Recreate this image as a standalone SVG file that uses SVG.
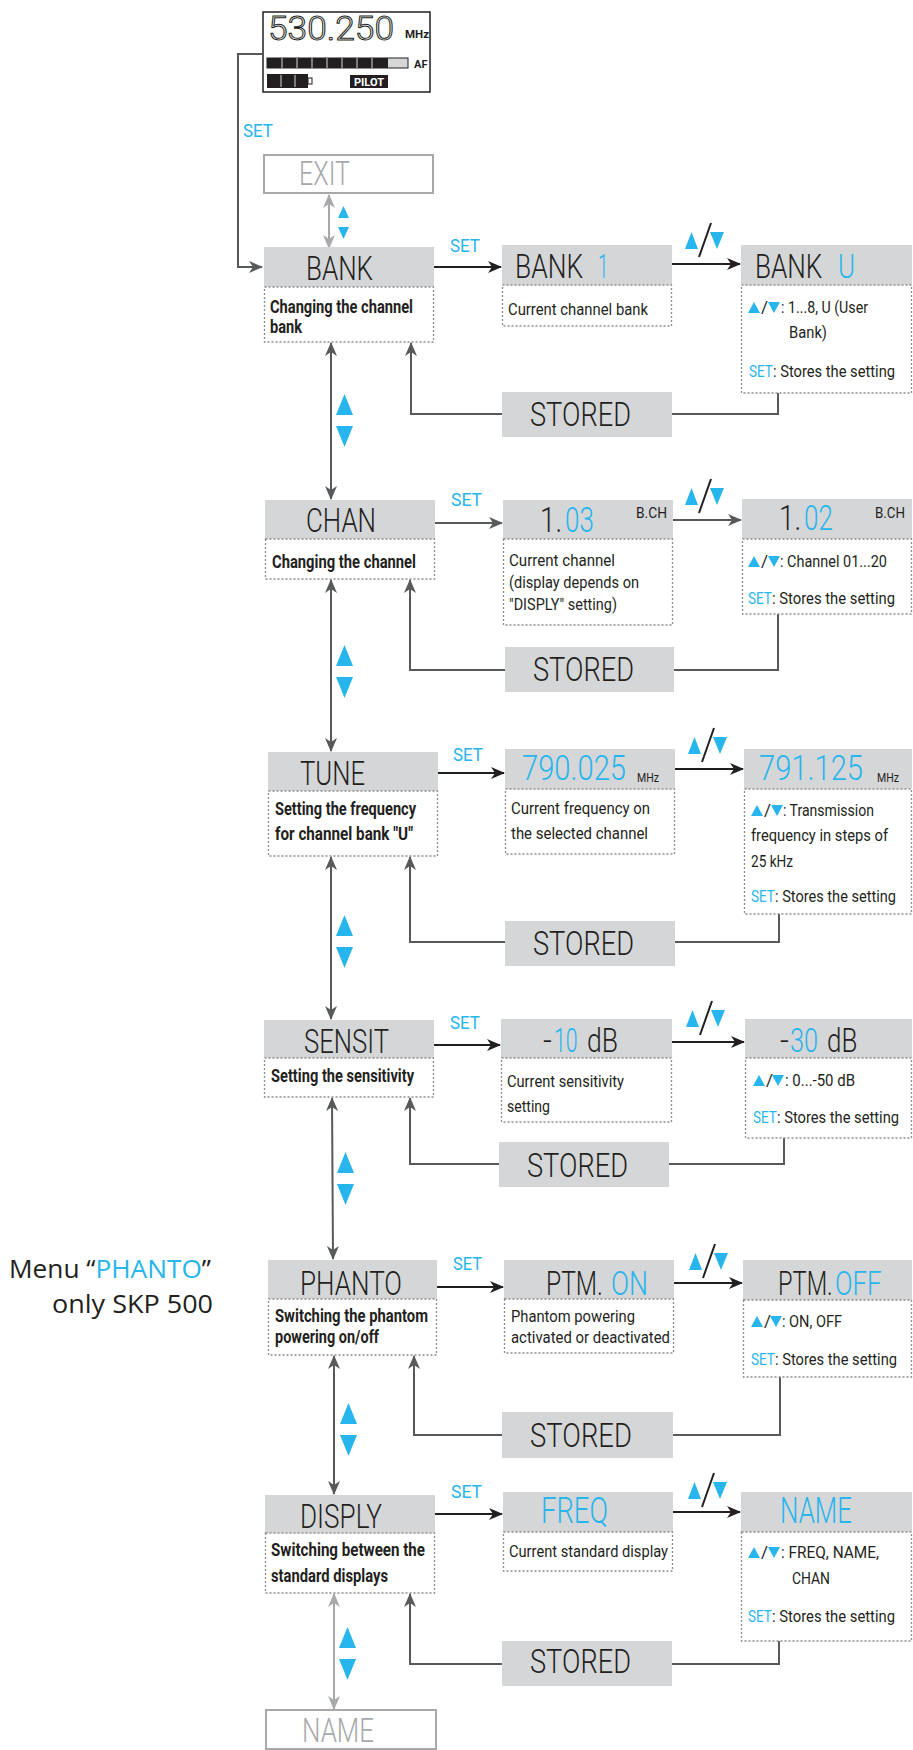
<svg xmlns="http://www.w3.org/2000/svg" xmlns:xlink="http://www.w3.org/1999/xlink" width="913" height="1750" viewBox="0 0 913 1750">
<defs>
<style>
.hdr{fill:#d5d6d8}
.dot{fill:none;stroke:#8c8c8c;stroke-width:1.3;stroke-dasharray:2 2}
.t{font-family:Roboto,"Liberation Sans",sans-serif;fill:#231f20}
.h{font-size:33px;font-weight:300}
.big{font-size:36px;font-weight:300}
.d{font-size:17px}
.r{font-size:16px}
.b{font-size:18px;font-weight:700}
.s{font-size:18px;fill:#27b5ee}
.sm{font-size:14px}
.blue{fill:#27b5ee}
.grey{fill:#a7a9ac}
.ln{fill:none;stroke:#58595b;stroke-width:2}
.lk{fill:none;stroke:#231f20;stroke-width:2}
.lg{fill:none;stroke:#a7a9ac;stroke-width:2}
.tri{fill:#27b5ee}
</style>
<marker id="ak" viewBox="0 0 14 12" refX="13" refY="6" markerWidth="14" markerHeight="12" markerUnits="userSpaceOnUse" orient="auto-start-reverse"><path d="M0,0 L14,6 L0,12 L4,6 z" fill="#231f20"/></marker>
<marker id="ag" viewBox="0 0 14 12" refX="13" refY="6" markerWidth="14" markerHeight="12" markerUnits="userSpaceOnUse" orient="auto-start-reverse"><path d="M0,0 L14,6 L0,12 L4,6 z" fill="#58595b"/></marker>
<marker id="al" viewBox="0 0 14 12" refX="13" refY="6" markerWidth="14" markerHeight="12" markerUnits="userSpaceOnUse" orient="auto-start-reverse"><path d="M0,0 L14,6 L0,12 L4,6 z" fill="#a7a9ac"/></marker>
<polygon id="tu" points="0,11 6,0 12,11"/>
<polygon id="td" points="0,0 12,0 6,11"/>
<polygon id="Tu" points="0,21 8.5,0 17,21"/>
<polygon id="Td" points="0,0 17,0 8.5,21"/>
<g id="ud">
<polygon points="0,17 6.5,0 13,17" fill="#27b5ee"/>
<polygon points="25,0 39,0 32,17" fill="#27b5ee"/>
<line x1="14" y1="25" x2="26" y2="-9" stroke="#231f20" stroke-width="2"/>
</g>
</defs>

<g id="lcd">
<rect x="263" y="12" width="167" height="80" fill="#fff" stroke="#231f20" stroke-width="1.5"/>
<text x="268" y="40" font-family="Roboto,'Liberation Sans',sans-serif" font-size="33" font-weight="300" style="fill:#fff;stroke:#231f20;stroke-width:1" textLength="126" lengthAdjust="spacingAndGlyphs">530.250</text>
<text x="405" y="38" class="t" font-size="10" font-weight="700" textLength="24" lengthAdjust="spacingAndGlyphs">MHz</text>
<rect x="267" y="58" width="141" height="10" fill="#d5d6d8" stroke="#231f20" stroke-width="1"/>
<rect x="267" y="58" width="121" height="10" fill="#231f20"/>
<path d="M282,58V68M297,58V68M312,58V68M327,58V68M342,58V68M357,58V68M372,58V68" stroke="#d5d6d8" stroke-width="1"/>
<text x="414" y="68" class="t" font-size="11" font-weight="700">AF</text>
<rect x="267" y="74" width="41" height="14" fill="#231f20"/>
<path d="M281,75V87M295,75V87" stroke="#d5d6d8" stroke-width="1"/>
<rect x="308" y="78" width="4" height="6" fill="#fff" stroke="#231f20" stroke-width="1"/>
<rect x="350" y="75" width="38" height="13" fill="#231f20"/>
<text x="354" y="86" font-family="Roboto,'Liberation Sans',sans-serif" font-size="10" font-weight="700" style="fill:#fff" textLength="30" lengthAdjust="spacingAndGlyphs">PILOT</text>
</g>

<g id="connectors">
<path class="ln" d="M263,54H238V267H262" marker-end="url(#ag)"/>
<line class="lg" x1="329" y1="195" x2="329" y2="248" marker-start="url(#al)" marker-end="url(#al)"/>
<line class="lk" x1="434" y1="267" x2="501" y2="267" marker-end="url(#ak)"/>
<line class="lk" x1="672" y1="264" x2="740" y2="264" marker-end="url(#ak)"/>
<path class="ln" d="M778,393V414H672"/>
<path class="ln" d="M502,414H411V343" marker-end="url(#ag)"/>
<line class="ln" x1="331" y1="343" x2="331" y2="499" marker-start="url(#ag)" marker-end="url(#ag)"/>
<line class="ln" x1="435" y1="523" x2="502" y2="523" marker-end="url(#ag)"/>
<line class="ln" x1="673" y1="520" x2="741" y2="520" marker-end="url(#ag)"/>
<path class="ln" d="M778,614V670H674"/>
<path class="ln" d="M505,670H410V580" marker-end="url(#ag)"/>
<line class="ln" x1="331" y1="580" x2="331" y2="751" marker-start="url(#ag)" marker-end="url(#ag)"/>
<line class="lk" x1="438" y1="773" x2="504" y2="773" marker-end="url(#ak)"/>
<line class="lk" x1="675" y1="769" x2="743" y2="769" marker-end="url(#ak)"/>
<path class="ln" d="M779,914V942H675"/>
<path class="ln" d="M505,942H410V857" marker-end="url(#ag)"/>
<line class="ln" x1="331" y1="857" x2="331" y2="1019" marker-start="url(#ag)" marker-end="url(#ag)"/>
<line class="lk" x1="434" y1="1045" x2="500" y2="1045" marker-end="url(#ak)"/>
<line class="lk" x1="672" y1="1042" x2="744" y2="1042" marker-end="url(#ak)"/>
<path class="ln" d="M784,1138V1164H669"/>
<path class="ln" d="M499,1164H410V1098" marker-end="url(#ag)"/>
<line class="ln" x1="332" y1="1098" x2="333" y2="1259" marker-start="url(#ag)" marker-end="url(#ag)"/>
<line class="lk" x1="437" y1="1287" x2="503" y2="1287" marker-end="url(#ak)"/>
<line class="lk" x1="674" y1="1283" x2="742" y2="1283" marker-end="url(#ak)"/>
<path class="ln" d="M780,1377V1435H673"/>
<path class="ln" d="M502,1435H414V1356" marker-end="url(#ag)"/>
<line class="ln" x1="334" y1="1356" x2="334" y2="1494" marker-start="url(#ag)" marker-end="url(#ag)"/>
<line class="lk" x1="435" y1="1514" x2="502" y2="1514" marker-end="url(#ak)"/>
<line class="lk" x1="673" y1="1512" x2="740" y2="1512" marker-end="url(#ak)"/>
<path class="ln" d="M779,1641V1664H672"/>
<path class="ln" d="M502,1664H410V1594" marker-end="url(#ag)"/>
<line class="lg" x1="334" y1="1594" x2="334" y2="1709" marker-start="url(#al)" marker-end="url(#al)"/>
<use xlink:href="#ud" x="685" y="232"/>
<use xlink:href="#ud" x="685" y="488"/>
<use xlink:href="#ud" x="688" y="737"/>
<use xlink:href="#ud" x="686" y="1010"/>
<use xlink:href="#ud" x="689" y="1253"/>
<use xlink:href="#ud" x="688" y="1482"/>
<polygon class="tri" points="338,218 343.5,206 349,218"/>
<polygon class="tri" points="338,227 349,227 343.5,239"/>
<use xlink:href="#Tu" class="tri" x="336" y="394"/>
<use xlink:href="#Td" class="tri" x="336" y="426"/>
<use xlink:href="#Tu" class="tri" x="336" y="645"/>
<use xlink:href="#Td" class="tri" x="336" y="677"/>
<use xlink:href="#Tu" class="tri" x="336" y="915"/>
<use xlink:href="#Td" class="tri" x="336" y="947"/>
<use xlink:href="#Tu" class="tri" x="337" y="1152"/>
<use xlink:href="#Td" class="tri" x="337" y="1184"/>
<use xlink:href="#Tu" class="tri" x="340" y="1403"/>
<use xlink:href="#Td" class="tri" x="340" y="1435"/>
<use xlink:href="#Tu" class="tri" x="339" y="1627"/>
<use xlink:href="#Td" class="tri" x="339" y="1659"/>
</g>
<text x="243" y="137" class="t s" textLength="30" lengthAdjust="spacingAndGlyphs">SET</text>

<g id="exit">
<rect x="264" y="155" width="169" height="38" fill="#fff" stroke="#a7a9ac" stroke-width="2"/>
<text x="299" y="185" class="t h grey" textLength="51" lengthAdjust="spacingAndGlyphs">EXIT</text>
</g>

<g id="bank">
<rect class="hdr" x="264" y="247" width="170" height="40"/>
<rect class="dot" x="264.5" y="287" width="169" height="55"/>
<text x="306" y="280" class="t h" textLength="67" lengthAdjust="spacingAndGlyphs">BANK</text>
<text x="270" y="313" class="t b" textLength="143" lengthAdjust="spacingAndGlyphs">Changing the channel</text>
<text x="270" y="333" class="t b" textLength="32" lengthAdjust="spacingAndGlyphs">bank</text>
</g>
<text x="450" y="252" class="t s" textLength="30" lengthAdjust="spacingAndGlyphs">SET</text>
<g id="bank1">
<rect class="hdr" x="502" y="245" width="170" height="40"/>
<rect class="dot" x="502.5" y="285" width="169" height="41"/>
<text transform="translate(515,278) scale(0.74,1)" class="t h" textLength="92" lengthAdjust="spacingAndGlyphs">BANK</text>
<text transform="translate(598,278) scale(0.74,1)" class="t h blue" textLength="14" lengthAdjust="spacingAndGlyphs">1</text>
<text x="508" y="315" class="t d" textLength="140" lengthAdjust="spacingAndGlyphs">Current channel bank</text>
</g>
<g id="bankU">
<rect class="hdr" x="741" y="245" width="171" height="40"/>
<rect class="dot" x="741.5" y="285" width="170" height="108"/>
<text transform="translate(755,278) scale(0.74,1)" class="t h" textLength="91" lengthAdjust="spacingAndGlyphs">BANK</text>
<text transform="translate(838,278) scale(0.74,1)" class="t h blue" textLength="23" lengthAdjust="spacingAndGlyphs">U</text>
<use xlink:href="#tu" class="tri" x="748" y="302"/>
<text x="761" y="313" class="t d">/</text>
<use xlink:href="#td" class="tri" x="768" y="302"/>
<text x="781" y="313" class="t r" textLength="87" lengthAdjust="spacingAndGlyphs">: 1...8, U (User</text>
<text x="789" y="338" class="t d" textLength="38" lengthAdjust="spacingAndGlyphs">Bank)</text>
<text transform="translate(749,377) scale(0.7,1)" class="t d blue" textLength="34" lengthAdjust="spacingAndGlyphs">SET</text>
<text x="773" y="377" class="t r" textLength="122" lengthAdjust="spacingAndGlyphs">: Stores the setting</text>
</g>
<g id="stored1">
<rect class="hdr" x="502" y="392" width="170" height="45"/>
<text x="530" y="426" class="t h" textLength="101" lengthAdjust="spacingAndGlyphs">STORED</text>
</g>

<g id="chan">
<rect class="hdr" x="265" y="500" width="170" height="39"/>
<rect class="dot" x="265.5" y="539" width="169" height="40"/>
<text x="306" y="532" class="t h" textLength="70" lengthAdjust="spacingAndGlyphs">CHAN</text>
<text x="272" y="568" class="t b" textLength="144" lengthAdjust="spacingAndGlyphs">Changing the channel</text>
</g>
<text x="451" y="506" class="t s" textLength="31" lengthAdjust="spacingAndGlyphs">SET</text>
<g id="ch103">
<rect class="hdr" x="503" y="500" width="170" height="39"/>
<rect class="dot" x="503.5" y="539" width="169" height="86"/>
<text transform="translate(540,532) scale(0.74,1)" class="t big" textLength="30" lengthAdjust="spacingAndGlyphs">1.</text>
<text transform="translate(565,532) scale(0.74,1)" class="t big blue" textLength="39" lengthAdjust="spacingAndGlyphs">03</text>
<text x="636" y="518" class="t sm" textLength="31" lengthAdjust="spacingAndGlyphs">B.CH</text>
<text x="509" y="566" class="t d" textLength="106" lengthAdjust="spacingAndGlyphs">Current channel</text>
<text x="509" y="588" class="t d" textLength="130" lengthAdjust="spacingAndGlyphs">(display depends on</text>
<text x="509" y="610" class="t d" textLength="108" lengthAdjust="spacingAndGlyphs">"DISPLY" setting)</text>
</g>
<g id="ch102">
<rect class="hdr" x="742" y="499" width="170" height="40"/>
<rect class="dot" x="742.5" y="539" width="169" height="75"/>
<text transform="translate(779,530) scale(0.74,1)" class="t big" textLength="30" lengthAdjust="spacingAndGlyphs">1.</text>
<text transform="translate(804,530) scale(0.74,1)" class="t big blue" textLength="39" lengthAdjust="spacingAndGlyphs">02</text>
<text x="875" y="518" class="t sm" textLength="30" lengthAdjust="spacingAndGlyphs">B.CH</text>
<use xlink:href="#tu" class="tri" x="748" y="556"/>
<text x="761" y="567" class="t d">/</text>
<use xlink:href="#td" class="tri" x="768" y="556"/>
<text x="780" y="567" class="t r" textLength="107" lengthAdjust="spacingAndGlyphs">: Channel  01...20</text>
<text transform="translate(748,604) scale(0.7,1)" class="t d blue" textLength="34" lengthAdjust="spacingAndGlyphs">SET</text>
<text x="772" y="604" class="t r" textLength="123" lengthAdjust="spacingAndGlyphs">: Stores the setting</text>
</g>
<g id="stored2">
<rect class="hdr" x="505" y="647" width="169" height="45"/>
<text x="533" y="681" class="t h" textLength="101" lengthAdjust="spacingAndGlyphs">STORED</text>
</g>

<g id="tune">
<rect class="hdr" x="268" y="752" width="170" height="39"/>
<rect class="dot" x="268.5" y="791" width="169" height="65"/>
<text x="300" y="785" class="t h" textLength="65" lengthAdjust="spacingAndGlyphs">TUNE</text>
<text x="275" y="815" class="t b" textLength="141" lengthAdjust="spacingAndGlyphs">Setting the frequency</text>
<text x="275" y="840" class="t b" textLength="138" lengthAdjust="spacingAndGlyphs">for channel bank "U"</text>
</g>
<text x="453" y="761" class="t s" textLength="30" lengthAdjust="spacingAndGlyphs">SET</text>
<g id="f790">
<rect class="hdr" x="505" y="749" width="170" height="40"/>
<rect class="dot" x="505.5" y="789" width="169" height="65"/>
<text transform="translate(522,780) scale(0.8,1)" class="t big blue" font-size="37" textLength="130" lengthAdjust="spacingAndGlyphs">790.025</text>
<text x="637" y="782" class="t" font-size="13" textLength="22" lengthAdjust="spacingAndGlyphs">MHz</text>
<text x="511" y="814" class="t d" textLength="139" lengthAdjust="spacingAndGlyphs">Current frequency on</text>
<text x="511" y="839" class="t d" textLength="137" lengthAdjust="spacingAndGlyphs">the selected channel</text>
</g>
<g id="f791">
<rect class="hdr" x="744" y="749" width="168" height="40"/>
<rect class="dot" x="744.5" y="789" width="167" height="125"/>
<text transform="translate(759,780) scale(0.8,1)" class="t big blue" font-size="37" textLength="130" lengthAdjust="spacingAndGlyphs">791.125</text>
<text x="877" y="782" class="t" font-size="13" textLength="22" lengthAdjust="spacingAndGlyphs">MHz</text>
<use xlink:href="#tu" class="tri" x="751" y="805"/>
<text x="764" y="816" class="t d">/</text>
<use xlink:href="#td" class="tri" x="771" y="805"/>
<text x="783" y="816" class="t r" textLength="91" lengthAdjust="spacingAndGlyphs">: Transmission</text>
<text x="751" y="841" class="t r" textLength="137" lengthAdjust="spacingAndGlyphs">frequency in steps of</text>
<text x="751" y="867" class="t d" textLength="42" lengthAdjust="spacingAndGlyphs">25 kHz</text>
<text transform="translate(751,902) scale(0.7,1)" class="t d blue" textLength="34" lengthAdjust="spacingAndGlyphs">SET</text>
<text x="775" y="902" class="t r" textLength="121" lengthAdjust="spacingAndGlyphs">: Stores the setting</text>
</g>
<g id="stored3">
<rect class="hdr" x="505" y="921" width="170" height="45"/>
<text x="533" y="955" class="t h" textLength="101" lengthAdjust="spacingAndGlyphs">STORED</text>
</g>

<g id="sensit">
<rect class="hdr" x="264" y="1020" width="170" height="38"/>
<rect class="dot" x="264.5" y="1058" width="169" height="39"/>
<text x="304" y="1053" class="t h" textLength="85" lengthAdjust="spacingAndGlyphs">SENSIT</text>
<text x="271" y="1082" class="t b" textLength="143" lengthAdjust="spacingAndGlyphs">Setting the sensitivity</text>
</g>
<text x="450" y="1029" class="t s" textLength="30" lengthAdjust="spacingAndGlyphs">SET</text>
<g id="s10">
<rect class="hdr" x="501" y="1019" width="171" height="39"/>
<rect class="dot" x="501.5" y="1058" width="170" height="64"/>
<text transform="translate(543,1052) scale(0.74,1)" class="t h" textLength="12" lengthAdjust="spacingAndGlyphs">-</text>
<text transform="translate(554,1052) scale(0.74,1)" class="t h blue" textLength="32" lengthAdjust="spacingAndGlyphs">10</text>
<text transform="translate(587,1052) scale(0.74,1)" class="t h" textLength="42" lengthAdjust="spacingAndGlyphs">dB</text>
<text x="507" y="1087" class="t d" textLength="117" lengthAdjust="spacingAndGlyphs">Current sensitivity</text>
<text x="507" y="1112" class="t d" textLength="43" lengthAdjust="spacingAndGlyphs">setting</text>
</g>
<g id="s30">
<rect class="hdr" x="745" y="1019" width="167" height="39"/>
<rect class="dot" x="745.5" y="1058" width="166" height="80"/>
<text transform="translate(780,1052) scale(0.74,1)" class="t h" textLength="12" lengthAdjust="spacingAndGlyphs">-</text>
<text transform="translate(790,1052) scale(0.74,1)" class="t h blue" textLength="38" lengthAdjust="spacingAndGlyphs">30</text>
<text transform="translate(827,1052) scale(0.74,1)" class="t h" textLength="41" lengthAdjust="spacingAndGlyphs">dB</text>
<use xlink:href="#tu" class="tri" x="753" y="1075"/>
<text x="766" y="1086" class="t d">/</text>
<use xlink:href="#td" class="tri" x="772" y="1075"/>
<text x="785" y="1086" class="t r" textLength="70" lengthAdjust="spacingAndGlyphs">:  0...-50 dB</text>
<text transform="translate(753,1123) scale(0.7,1)" class="t d blue" textLength="34" lengthAdjust="spacingAndGlyphs">SET</text>
<text x="777" y="1123" class="t r" textLength="122" lengthAdjust="spacingAndGlyphs">: Stores the setting</text>
</g>
<g id="stored4">
<rect class="hdr" x="499" y="1142" width="170" height="45"/>
<text x="527" y="1177" class="t h" textLength="101" lengthAdjust="spacingAndGlyphs">STORED</text>
</g>

<g id="note">
<text x="211" y="1278" font-family="'Open Sans','Noto Sans',sans-serif" font-size="25" fill="#231f20" text-anchor="end" textLength="202" lengthAdjust="spacingAndGlyphs">Menu “<tspan fill="#27b5ee">PHANTO</tspan>”</text>
<text x="213" y="1313" font-family="'Open Sans','Noto Sans',sans-serif" font-size="25" fill="#231f20" text-anchor="end" textLength="161" lengthAdjust="spacingAndGlyphs">only SKP 500</text>
</g>
<g id="phanto">
<rect class="hdr" x="268" y="1260" width="169" height="39"/>
<rect class="dot" x="268.5" y="1299" width="168" height="56"/>
<text x="300" y="1295" class="t h" textLength="102" lengthAdjust="spacingAndGlyphs">PHANTO</text>
<text x="275" y="1322" class="t b" textLength="153" lengthAdjust="spacingAndGlyphs">Switching the phantom</text>
<text x="275" y="1343" class="t b" textLength="104" lengthAdjust="spacingAndGlyphs">powering on/off</text>
</g>
<text x="453" y="1270" class="t s" textLength="29" lengthAdjust="spacingAndGlyphs">SET</text>
<g id="ptmon">
<rect class="hdr" x="504" y="1260" width="170" height="39"/>
<rect class="dot" x="504.5" y="1299" width="169" height="54"/>
<text transform="translate(546,1295) scale(0.74,1)" class="t h" textLength="77" lengthAdjust="spacingAndGlyphs">PTM.</text>
<text transform="translate(611,1295) scale(0.74,1)" class="t h blue" textLength="50" lengthAdjust="spacingAndGlyphs">ON</text>
<text x="511" y="1322" class="t d" textLength="124" lengthAdjust="spacingAndGlyphs">Phantom powering</text>
<text x="511" y="1343" class="t d" textLength="159" lengthAdjust="spacingAndGlyphs">activated or deactivated</text>
</g>
<g id="ptmoff">
<rect class="hdr" x="743" y="1260" width="169" height="40"/>
<rect class="dot" x="743.5" y="1300" width="168" height="77"/>
<text transform="translate(778,1295) scale(0.74,1)" class="t h" textLength="74" lengthAdjust="spacingAndGlyphs">PTM.</text>
<text transform="translate(835,1295) scale(0.74,1)" class="t h blue" textLength="63" lengthAdjust="spacingAndGlyphs">OFF</text>
<use xlink:href="#tu" class="tri" x="751" y="1316"/>
<text x="764" y="1327" class="t d">/</text>
<use xlink:href="#td" class="tri" x="770" y="1316"/>
<text x="782" y="1327" class="t r" textLength="60" lengthAdjust="spacingAndGlyphs">: ON, OFF</text>
<text transform="translate(751,1365) scale(0.7,1)" class="t d blue" textLength="34" lengthAdjust="spacingAndGlyphs">SET</text>
<text x="775" y="1365" class="t r" textLength="122" lengthAdjust="spacingAndGlyphs">: Stores the setting</text>
</g>
<g id="stored5">
<rect class="hdr" x="502" y="1412" width="171" height="46"/>
<text x="530" y="1447" class="t h" textLength="102" lengthAdjust="spacingAndGlyphs">STORED</text>
</g>

<g id="disply">
<rect class="hdr" x="265" y="1495" width="170" height="38"/>
<rect class="dot" x="265.5" y="1533" width="169" height="60"/>
<text x="300" y="1528" class="t h" textLength="82" lengthAdjust="spacingAndGlyphs">DISPLY</text>
<text x="271" y="1556" class="t b" textLength="154" lengthAdjust="spacingAndGlyphs">Switching between the</text>
<text x="271" y="1582" class="t b" textLength="117" lengthAdjust="spacingAndGlyphs">standard displays</text>
</g>
<text x="451" y="1498" class="t s" textLength="31" lengthAdjust="spacingAndGlyphs">SET</text>
<g id="freq">
<rect class="hdr" x="503" y="1492" width="170" height="40"/>
<rect class="dot" x="503.5" y="1532" width="169" height="39"/>
<text x="541" y="1523" class="t big blue" textLength="67" lengthAdjust="spacingAndGlyphs">FREQ</text>
<text x="509" y="1557" class="t d" textLength="159" lengthAdjust="spacingAndGlyphs">Current standard display</text>
</g>
<g id="name">
<rect class="hdr" x="741" y="1492" width="171" height="40"/>
<rect class="dot" x="741.5" y="1532" width="170" height="109"/>
<text x="780" y="1523" class="t big blue" textLength="72" lengthAdjust="spacingAndGlyphs">NAME</text>
<use xlink:href="#tu" class="tri" x="748" y="1547"/>
<text x="761" y="1558" class="t d">/</text>
<use xlink:href="#td" class="tri" x="768" y="1547"/>
<text x="781" y="1558" class="t r" textLength="98" lengthAdjust="spacingAndGlyphs">:  FREQ, NAME,</text>
<text x="792" y="1584" class="t d" textLength="38" lengthAdjust="spacingAndGlyphs">CHAN</text>
<text transform="translate(748,1622) scale(0.7,1)" class="t d blue" textLength="34" lengthAdjust="spacingAndGlyphs">SET</text>
<text x="772" y="1622" class="t r" textLength="123" lengthAdjust="spacingAndGlyphs">: Stores the setting</text>
</g>
<g id="stored6">
<rect class="hdr" x="502" y="1641" width="170" height="45"/>
<text x="530" y="1673" class="t h" textLength="101" lengthAdjust="spacingAndGlyphs">STORED</text>
</g>
<g id="nameExit">
<rect x="266" y="1710" width="170" height="39" fill="#fff" stroke="#a7a9ac" stroke-width="2"/>
<text x="302" y="1742" class="t h grey" textLength="72" lengthAdjust="spacingAndGlyphs">NAME</text>
</g>
</svg>
